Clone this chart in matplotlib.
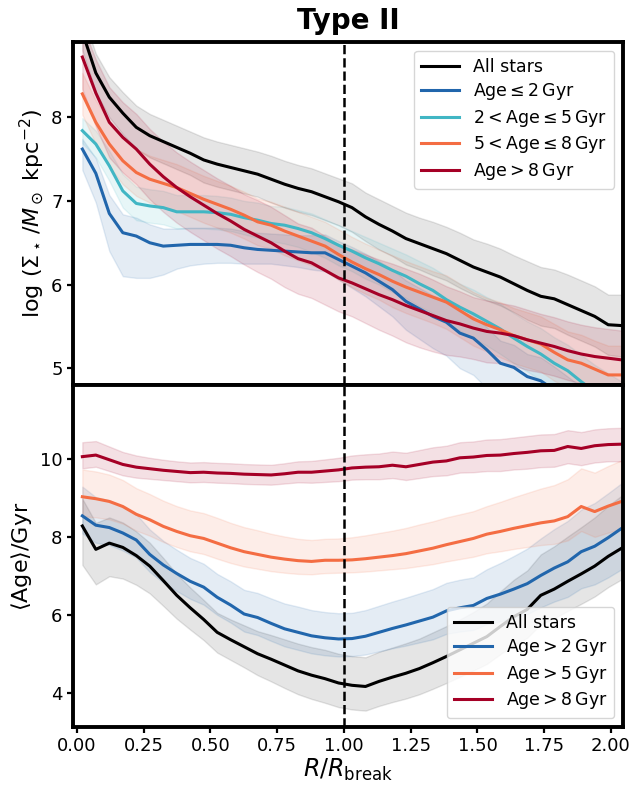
import matplotlib
matplotlib.use('Agg')
import matplotlib.pyplot as plt
import numpy as np

# radial bins in units of R_break
r = np.linspace(0.02, 2.04, 41)

# ---- upper panel: log surface density ----
sd_all = [9.02, 8.53, 8.24, 8.05, 7.88, 7.78, 7.71, 7.64, 7.57, 7.49, 7.44,
          7.40, 7.36, 7.32, 7.26, 7.20, 7.15, 7.11, 7.05, 6.99, 6.92,
          6.81, 6.72, 6.64, 6.55, 6.49, 6.43, 6.37, 6.29, 6.21, 6.15,
          6.09, 6.01, 5.93, 5.86, 5.83, 5.76, 5.69, 5.62, 5.52, 5.51]
sd_all_lo = [0.22, 0.23, 0.24, 0.25, 0.26, 0.26, 0.26, 0.26, 0.26, 0.27, 0.27,
             0.27, 0.27, 0.27, 0.28, 0.28, 0.28, 0.28, 0.28, 0.28, 0.29,
             0.29, 0.30, 0.30, 0.31, 0.31, 0.32, 0.32, 0.33, 0.33, 0.34,
             0.34, 0.34, 0.35, 0.35, 0.35, 0.36, 0.36, 0.36, 0.36, 0.37]
sd_all_hi = sd_all_lo

sd_y2 = [7.62, 7.33, 6.85, 6.62, 6.58, 6.50, 6.46, 6.47, 6.48, 6.48, 6.48,
         6.47, 6.44, 6.42, 6.41, 6.40, 6.39, 6.38, 6.38, 6.30, 6.22,
         6.14, 6.04, 5.94, 5.80, 5.71, 5.62, 5.55, 5.42, 5.36, 5.22,
         5.06, 5.01, 4.90, 4.85, 4.74, 4.62, 4.50, 4.40, 4.30, 4.22]
sd_y2_lo = [0.25, 0.35, 0.45, 0.52, 0.50, 0.42, 0.34, 0.28, 0.25, 0.23, 0.22,
            0.21, 0.19, 0.17, 0.16, 0.17, 0.18, 0.20, 0.22, 0.24, 0.26,
            0.28, 0.30, 0.32, 0.34, 0.36, 0.38, 0.40, 0.42, 0.44, 0.46,
            0.48, 0.50, 0.50, 0.50, 0.50, 0.50, 0.50, 0.50, 0.50, 0.50]
sd_y2_hi = [0.12, 0.18, 0.22, 0.22, 0.22, 0.22, 0.21, 0.20, 0.20, 0.20, 0.20,
            0.20, 0.20, 0.20, 0.20, 0.20, 0.20, 0.21, 0.22, 0.22, 0.23,
            0.23, 0.24, 0.24, 0.25, 0.25, 0.25, 0.26, 0.26, 0.26, 0.27,
            0.27, 0.27, 0.27, 0.28, 0.28, 0.28, 0.28, 0.28, 0.28, 0.28]

sd_y5 = [7.84, 7.68, 7.42, 7.12, 6.97, 6.94, 6.92, 6.87, 6.87, 6.87, 6.86,
         6.84, 6.80, 6.77, 6.73, 6.71, 6.67, 6.62, 6.55, 6.47, 6.40,
         6.32, 6.25, 6.17, 6.10, 6.01, 5.93, 5.82, 5.73, 5.65, 5.56,
         5.47, 5.36, 5.26, 5.17, 5.06, 4.97, 4.84, 4.72, 4.62, 4.52]
sd_y5_lo = [0.15, 0.16, 0.18, 0.20, 0.20, 0.20, 0.20, 0.20, 0.20, 0.20, 0.20,
            0.20, 0.20, 0.21, 0.21, 0.22, 0.22, 0.23, 0.23, 0.24, 0.24,
            0.25, 0.25, 0.26, 0.26, 0.27, 0.27, 0.28, 0.28, 0.29, 0.29,
            0.30, 0.30, 0.30, 0.31, 0.31, 0.31, 0.32, 0.32, 0.32, 0.32]
sd_y5_hi = sd_y5_lo

sd_y8 = [8.28, 7.94, 7.68, 7.48, 7.34, 7.26, 7.21, 7.16, 7.09, 7.02, 6.96,
         6.90, 6.83, 6.75, 6.71, 6.64, 6.58, 6.52, 6.46, 6.36, 6.27,
         6.19, 6.12, 6.04, 5.97, 5.91, 5.85, 5.79, 5.69, 5.59, 5.52,
         5.46, 5.39, 5.34, 5.29, 5.19, 5.10, 5.06, 4.99, 4.92, 4.92]
sd_y8_lo = [0.25, 0.26, 0.27, 0.28, 0.28, 0.28, 0.28, 0.28, 0.28, 0.28, 0.28,
            0.28, 0.28, 0.28, 0.28, 0.29, 0.29, 0.29, 0.29, 0.30, 0.30,
            0.30, 0.30, 0.31, 0.31, 0.31, 0.31, 0.32, 0.32, 0.32, 0.32,
            0.33, 0.33, 0.33, 0.33, 0.34, 0.34, 0.34, 0.34, 0.35, 0.35]
sd_y8_hi = sd_y8_lo

sd_old = [8.72, 8.29, 7.94, 7.76, 7.62, 7.44, 7.29, 7.16, 7.05, 6.95, 6.85,
          6.76, 6.66, 6.58, 6.50, 6.40, 6.31, 6.26, 6.17, 6.08, 6.02,
          5.95, 5.88, 5.82, 5.75, 5.69, 5.63, 5.57, 5.53, 5.48, 5.44,
          5.42, 5.39, 5.34, 5.30, 5.26, 5.21, 5.17, 5.14, 5.12, 5.10]
sd_old_lo = [0.38, 0.40, 0.42, 0.42, 0.42, 0.42, 0.42, 0.42, 0.42, 0.42, 0.42,
             0.42, 0.42, 0.43, 0.43, 0.43, 0.42, 0.42, 0.41, 0.40, 0.40,
             0.41, 0.42, 0.43, 0.44, 0.44, 0.43, 0.41, 0.39, 0.37, 0.37,
             0.36, 0.36, 0.36, 0.35, 0.35, 0.35, 0.35, 0.35, 0.35, 0.35]
sd_old_hi = sd_old_lo

# ---- lower panel: mean age ----
age_all = [8.28, 7.68, 7.84, 7.73, 7.52, 7.25, 6.88, 6.50, 6.18, 5.88, 5.55,
           5.36, 5.18, 5.00, 4.86, 4.71, 4.56, 4.45, 4.36, 4.25, 4.19,
           4.16, 4.29, 4.40, 4.50, 4.62, 4.77, 4.93, 5.10, 5.27, 5.44,
           5.70, 5.95, 6.14, 6.50, 6.66, 6.86, 7.05, 7.25, 7.50, 7.71]
age_all_lo = [1.00, 0.90, 0.85, 0.80, 0.75, 0.70, 0.65, 0.60, 0.56, 0.53, 0.52,
              0.52, 0.53, 0.55, 0.57, 0.59, 0.60, 0.61, 0.62, 0.62, 0.62,
              0.62, 0.63, 0.64, 0.65, 0.66, 0.67, 0.68, 0.69, 0.70, 0.70,
              0.71, 0.72, 0.73, 0.74, 0.75, 0.76, 0.77, 0.78, 0.79, 0.80]
age_all_hi = [0.70, 0.68, 0.66, 0.64, 0.62, 0.60, 0.58, 0.55, 0.52, 0.50, 0.50,
              0.52, 0.55, 0.58, 0.62, 0.66, 0.70, 0.72, 0.74, 0.75, 0.75,
              0.75, 0.76, 0.76, 0.77, 0.77, 0.78, 0.78, 0.78, 0.80, 0.85,
              0.90, 0.95, 1.00, 1.05, 1.10, 1.15, 1.20, 1.25, 1.30, 1.35]

age_y2 = [8.54, 8.30, 8.24, 8.10, 7.92, 7.55, 7.28, 7.06, 6.86, 6.71, 6.45,
          6.25, 6.02, 5.93, 5.78, 5.64, 5.55, 5.46, 5.41, 5.38, 5.39,
          5.45, 5.55, 5.65, 5.74, 5.84, 5.94, 6.10, 6.18, 6.24, 6.42,
          6.53, 6.66, 6.80, 7.01, 7.20, 7.36, 7.62, 7.76, 7.98, 8.22]
age_y2_lo = [0.45, 0.45, 0.45, 0.45, 0.45, 0.45, 0.45, 0.45, 0.45, 0.45, 0.45,
             0.45, 0.45, 0.45, 0.45, 0.45, 0.45, 0.45, 0.45, 0.45, 0.45,
             0.47, 0.49, 0.51, 0.53, 0.55, 0.57, 0.59, 0.61, 0.63, 0.66,
             0.70, 0.74, 0.78, 0.82, 0.86, 0.90, 0.94, 0.98, 1.02, 1.05]
age_y2_hi = [0.75, 0.72, 0.70, 0.68, 0.66, 0.64, 0.62, 0.61, 0.60, 0.60, 0.60,
             0.61, 0.62, 0.63, 0.64, 0.65, 0.66, 0.66, 0.66, 0.66, 0.66,
             0.67, 0.68, 0.69, 0.70, 0.71, 0.72, 0.72, 0.72, 0.72, 0.75,
             0.80, 0.85, 0.90, 0.95, 1.00, 1.05, 1.08, 1.11, 1.14, 1.16]

age_y5 = [9.03, 8.98, 8.91, 8.78, 8.58, 8.44, 8.27, 8.14, 8.03, 7.96, 7.84,
          7.72, 7.62, 7.55, 7.48, 7.43, 7.39, 7.37, 7.40, 7.40, 7.41,
          7.44, 7.48, 7.52, 7.57, 7.64, 7.71, 7.80, 7.88, 7.96, 8.07,
          8.14, 8.22, 8.29, 8.36, 8.41, 8.52, 8.78, 8.65, 8.79, 8.91]
age_y5_lo = [0.50, 0.48, 0.46, 0.44, 0.42, 0.41, 0.40, 0.40, 0.40, 0.40, 0.40,
             0.39, 0.38, 0.37, 0.36, 0.35, 0.34, 0.33, 0.33, 0.32, 0.32,
             0.33, 0.34, 0.35, 0.37, 0.39, 0.41, 0.43, 0.45, 0.47, 0.49,
             0.51, 0.53, 0.55, 0.57, 0.59, 0.61, 0.63, 0.65, 0.68, 0.70]
age_y5_hi = [0.70, 0.70, 0.69, 0.68, 0.67, 0.66, 0.66, 0.65, 0.65, 0.65, 0.65,
             0.64, 0.63, 0.62, 0.60, 0.58, 0.56, 0.55, 0.55, 0.56, 0.58,
             0.60, 0.62, 0.64, 0.66, 0.68, 0.69, 0.70, 0.70, 0.70, 0.72,
             0.76, 0.80, 0.84, 0.88, 0.92, 0.96, 0.98, 1.00, 1.03, 1.06]

age_y8 = [10.06, 10.10, 9.98, 9.86, 9.79, 9.75, 9.71, 9.68, 9.65, 9.66, 9.64,
          9.63, 9.61, 9.60, 9.59, 9.62, 9.66, 9.66, 9.69, 9.72, 9.77,
          9.79, 9.80, 9.84, 9.80, 9.86, 9.92, 9.95, 10.03, 10.05, 10.09,
          10.10, 10.14, 10.17, 10.21, 10.22, 10.32, 10.27, 10.34, 10.37, 10.38]
age_y8_lo = [0.30, 0.30, 0.29, 0.28, 0.27, 0.26, 0.25, 0.25, 0.25, 0.25, 0.25,
             0.25, 0.25, 0.25, 0.25, 0.25, 0.26, 0.27, 0.28, 0.29, 0.30,
             0.31, 0.32, 0.33, 0.34, 0.35, 0.36, 0.37, 0.38, 0.39, 0.40,
             0.41, 0.41, 0.42, 0.42, 0.42, 0.43, 0.43, 0.43, 0.43, 0.44]
age_y8_hi = [0.37, 0.36, 0.34, 0.32, 0.30, 0.28, 0.27, 0.26, 0.26, 0.26, 0.26,
             0.26, 0.26, 0.26, 0.26, 0.27, 0.28, 0.29, 0.30, 0.31, 0.32,
             0.33, 0.34, 0.35, 0.36, 0.37, 0.38, 0.39, 0.40, 0.40, 0.41,
             0.41, 0.41, 0.42, 0.42, 0.42, 0.42, 0.42, 0.42, 0.42, 0.42]

c_all = 'black'
c_y2 = '#2166ac'
c_y5 = '#41b6c4'
c_y8 = '#f46d43'
c_old = '#a50026'

upper_series = [
    (sd_all, sd_all_lo, sd_all_hi, c_all, 'All stars'),
    (sd_y2, sd_y2_lo, sd_y2_hi, c_y2, r'Age$\leq2\,$Gyr'),
    (sd_y5, sd_y5_lo, sd_y5_hi, c_y5, r'$2<$Age$\leq5\,$Gyr'),
    (sd_y8, sd_y8_lo, sd_y8_hi, c_y8, r'$5<$Age$\leq8\,$Gyr'),
    (sd_old, sd_old_lo, sd_old_hi, c_old, r'Age$>8\,$Gyr'),
]
lower_series = [
    (age_all, age_all_lo, age_all_hi, c_all, 'All stars'),
    (age_y2, age_y2_lo, age_y2_hi, c_y2, r'Age$>2\,$Gyr'),
    (age_y5, age_y5_lo, age_y5_hi, c_y8, r'Age$>5\,$Gyr'),
    (age_y8, age_y8_lo, age_y8_hi, c_old, r'Age$>8\,$Gyr'),
]


def draw_panel(ax, series):
    for med, lo, hi, col, lab in series:
        med = np.array(med)
        a = 0.1 if col == 'black' else 0.12
        ax.fill_between(r, med - np.array(lo), med + np.array(hi),
                        color=col, alpha=a)
        ax.plot(r, med, color=col, lw=2.2, label=lab)
    ax.axvline(1.0, color='k', ls='--', lw=1.8)
    for s in ax.spines.values():
        s.set_linewidth(2.8)
    ax.tick_params(direction='out', length=4, width=1.6, labelsize=13)
    ax.set_xlim(-0.015, 2.045)
    ax.set_xticks(np.arange(0, 2.01, 0.25))


fig = plt.figure(figsize=(6.37, 7.85), dpi=100)
ax1 = fig.add_axes([0.1146, 0.5096, 0.8634, 0.4369])
ax2 = fig.add_axes([0.1146, 0.0739, 0.8634, 0.4357])

draw_panel(ax1, upper_series)
ax1.set_ylim(4.8, 8.9)
ax1.set_yticks([5, 6, 7, 8])
ax1.tick_params(labelbottom=False)
ax1.set_ylabel(r'$\log\,(\Sigma_\star\,/M_\odot\ \mathrm{kpc}^{-2})$', fontsize=16)
ax1.set_title('Type II', fontsize=20, fontweight='bold', pad=9)
ax1.legend(loc='upper right', fontsize=12.5, handlelength=2.2,
           labelspacing=0.32)

draw_panel(ax2, lower_series)
ax2.set_ylim(3.12, 11.9)
ax2.set_yticks([4, 6, 8, 10])
ax2.set_ylabel(r'$\langle\mathrm{Age}\rangle/\mathrm{Gyr}$', fontsize=16)
ax2.set_xlabel(r'$R/R_{\rm break}$', fontsize=17, labelpad=1)
ax2.legend(loc='lower right', fontsize=12.5, handlelength=2.2,
           labelspacing=0.32)

fig.savefig('out.png', dpi=100)
